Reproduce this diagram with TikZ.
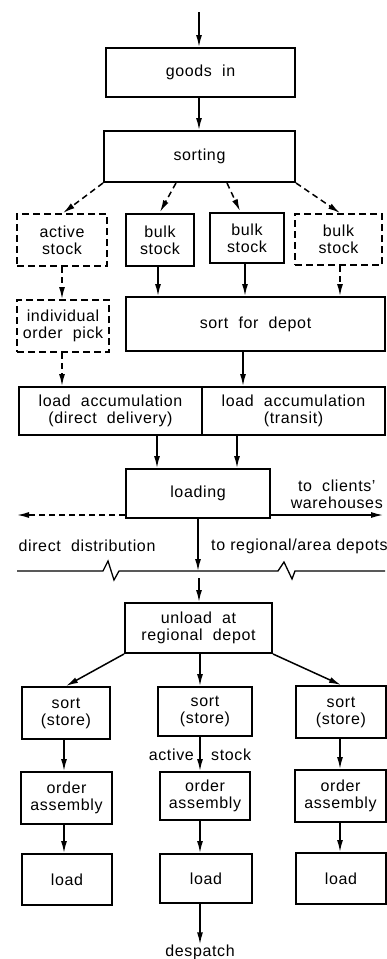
\documentclass[tikz,border=0pt]{standalone}
\usepackage{fontspec}
\setmainfont[LetterSpace=4]{Liberation Sans}
\usetikzlibrary{arrows.meta}
\begin{document}
\begin{tikzpicture}[x=1pt,y=-1pt,
  txt/.style={font=\fontsize{16}{17}\selectfont,align=center,inner sep=0pt},
  box/.style={txt,draw,line width=2pt},
  dbox/.style={box,dash pattern=on 7pt off 4pt},
  arr/.style={line width=1.5pt,-{Latex[length=12pt,width=6pt]}},
  darr/.style={arr,dash pattern=on 6pt off 4pt},
  zz/.style={line width=1.3pt}]
\useasboundingbox (0,0) rectangle (387,959);
% boxes
\node[box,minimum width=189pt,minimum height=49pt] (goods) at (200.5,72.5) {goods~~in};
\node[box,minimum width=191pt,minimum height=51pt] (sorting) at (199.5,156.5) {sorting};
\node[dbox,minimum width=90pt,minimum height=52pt] (active) at (62,240) {active\\stock};
\node[box,minimum width=68pt,minimum height=52pt] (bulkA) at (160,240) {bulk\\stock};
\node[box,minimum width=74pt,minimum height=50pt] (bulkB) at (247,238) {bulk\\stock};
\node[dbox,minimum width=87pt,minimum height=51pt] (bulkC) at (338.5,239.5) {bulk\\stock};
\node[dbox,minimum width=92pt,minimum height=52pt] (indiv) at (63,326) {individual\\order~~pick};
\node[box,minimum width=259pt,minimum height=54pt] (depot) at (255.5,324) {sort~~for~~depot};
\node[box,minimum width=183pt,minimum height=48pt] (accL) at (110.5,411) {load~~accumulation\\(direct~~delivery)};
\node[box,minimum width=183pt,minimum height=48pt] (accR) at (293.5,411) {load~~accumulation\\(transit)};
\node[box,minimum width=144pt,minimum height=49pt] (loading) at (198,493.5) {loading};
\node[box,minimum width=147pt,minimum height=50pt] (unload) at (198.5,628) {unload~~at\\regional~~depot};
\node[box,minimum width=88pt,minimum height=52pt] (sortL) at (66,713) {sort\\(store)};
\node[box,minimum width=94pt,minimum height=49pt] (sortM) at (205,711.5) {sort\\(store)};
\node[box,minimum width=90pt,minimum height=52pt] (sortR) at (341,712) {sort\\(store)};
\node[box,minimum width=91pt,minimum height=52pt] (orderL) at (66.5,798) {order\\assembly};
\node[box,minimum width=90pt,minimum height=48pt] (orderM) at (205,796) {order\\assembly};
\node[box,minimum width=91pt,minimum height=52pt] (orderR) at (340.5,796) {order\\assembly};
\node[box,minimum width=90pt,minimum height=51pt] (loadL) at (67,879.5) {load};
\node[box,minimum width=92pt,minimum height=49pt] (loadM) at (206,878.5) {load};
\node[box,minimum width=90pt,minimum height=51pt] (loadR) at (341,878.5) {load};
% labels
\node[txt,anchor=east] (clients) at (383,494) {to~~clients'\\warehouses};
\node[txt] (direct) at (87,546) {direct~~distribution};
\node[txt,anchor=west] (regional) at (211,546) {to regional/area depots};
\node[txt,anchor=east] (act) at (194,755) {active};
\node[txt,anchor=west] (stk) at (211,755) {stock};
\node[txt] (despatch) at (200,952) {despatch};
% coordinates
\coordinate (top) at (199,12);
\coordinate (lft) at (17,515);
\coordinate (rgt) at (383,515);
\coordinate (zzc) at (198,571);
\coordinate (zzb) at (199,578);
% connectors
\draw[arr] (top) -- (top |- goods.north);
\draw[arr] (199,0 |- goods.south) -- (199,0 |- sorting.north);
\draw[darr] (sorting.south west) -- (63,213);
\draw[darr] (176,0 |- sorting.south) -- (160,212);
\draw[darr] (227,0 |- sorting.south) -- (240,211);
\draw[darr] (sorting.south east) -- (340,213);
\draw[darr] (active.south) -- (active.south |- indiv.north);
\draw[arr] (158,0 |- bulkA.south) -- (158,0 |- depot.north);
\draw[arr] (245,0 |- bulkB.south) -- (245,0 |- depot.north);
\draw[darr] (340,0 |- bulkC.south) -- (340,0 |- depot.north);
\draw[darr] (62,0 |- indiv.south) -- (62,0 |- accL.north);
\draw[arr] (243,0 |- depot.south) -- (243,0 |- accR.north);
\draw[arr] (157,0 |- accL.south) -- (157,0 |- loading.north);
\draw[arr] (237,0 |- accR.south) -- (237,0 |- loading.north);
\draw[darr] (loading.west |- lft) -- (lft);
\draw[line width=1.3pt,-{Latex[length=12pt,width=6pt]}] (loading.east |- rgt) -- (rgt);
\draw[arr] (loading.south) -- (zzc);
% break line
\draw[zz] (17,571) -- (103,571) -- (108,561) -- (114,580) -- (119,571) -- (278,571) -- (284,562) -- (292,579) -- (295,571) -- (385,571);
\draw[arr] (zzb) -- (zzb |- unload.north);
\draw[arr] (unload.south west) -- (sortL.north);
\draw[arr] (200,0 |- unload.south) -- (200,0 |- sortM.north);
\draw[arr] (unload.south east) -- (sortR.north);
\draw[arr] (64,0 |- sortL.south) -- (64,0 |- orderL.north);
\draw[arr] (200,0 |- sortM.south) -- (200,0 |- orderM.north);
\draw[arr] (340,0 |- sortR.south) -- (340,0 |- orderR.north);
\draw[arr] (64,0 |- orderL.south) -- (64,0 |- loadL.north);
\draw[arr] (200,0 |- orderM.south) -- (200,0 |- loadM.north);
\draw[arr] (340,0 |- orderR.south) -- (340,0 |- loadR.north);
\draw[arr] (200,0 |- loadM.south) -- (200,0 |- despatch.north);
\end{tikzpicture}
\end{document}
